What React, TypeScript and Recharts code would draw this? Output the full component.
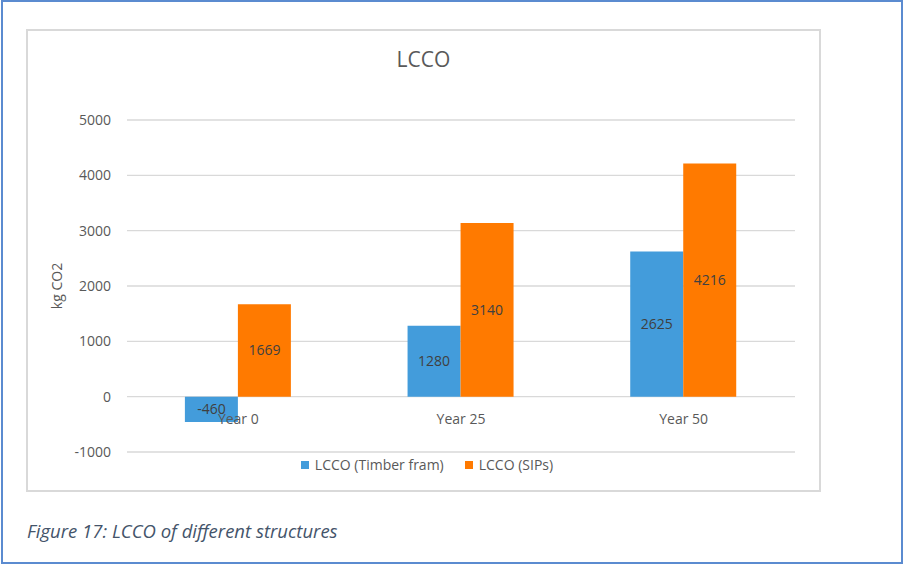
import React from "react";
import { BarChart, Bar, XAxis, YAxis, CartesianGrid, Legend, LabelList } from "recharts";

const CATEGORIES = ["Year 0", "Year 25", "Year 50"];
const TIMBER = [-460, 1280, 2625];
const SIPS = [1669, 3140, 4216];
const Y_TICKS = [-1000, 0, 1000, 2000, 3000, 4000, 5000];

const SERIES = [
  { key: "timber", label: "LCCO (Timber fram)", color: "#439cdb" },
  { key: "sips", label: "LCCO (SIPs)", color: "#ff7a00" },
];

const data = CATEGORIES.map((name, i) => ({ name, timber: TIMBER[i], sips: SIPS[i] }));

const CHART_W = 795;
const CHART_H = 463;
const MARGIN = { top: 91, right: 26, left: 20, bottom: 20 };
const X_AXIS_H = 20;
const PLOT_H = CHART_H - MARGIN.top - MARGIN.bottom - X_AXIS_H;
const Y_MIN = Y_TICKS[0];
const Y_MAX = Y_TICKS[Y_TICKS.length - 1];
// distance from the bottom of the plot up to the zero line
const ZERO_UP = (PLOT_H * (0 - Y_MIN)) / (Y_MAX - Y_MIN);

const TEXT = "#595959";
const FONT = "'Open Sans', sans-serif";

function CategoryTick(props: any) {
  const { x, y, payload } = props;
  return (
    <text x={x} y={y - ZERO_UP + 27} textAnchor="middle" fill={TEXT} fontSize={14}>
      {payload.value}
    </text>
  );
}

function LegendContent() {
  return (
    <div style={{ display: "flex", justifyContent: "center", gap: 21, paddingLeft: 7, fontSize: 14, color: TEXT }}>
      {SERIES.map((s) => (
        <div key={s.key} style={{ display: "flex", alignItems: "center", gap: 6 }}>
          <span style={{ width: 8, height: 8, background: s.color, display: "inline-block" }} />
          <span>{s.label}</span>
        </div>
      ))}
    </div>
  );
}

export default function App() {
  return (
    <div style={{ position: "absolute", left: 0, top: 0, width: 904, height: 564, background: "#fff", fontFamily: FONT }}>
      <div style={{ position: "absolute", left: 1, top: 0, width: 902, height: 564, border: "2px solid #5b8bd0", boxSizing: "border-box" }} />
      <div style={{ position: "absolute", left: 26, top: 29, width: CHART_W, height: CHART_H, border: "2px solid #d9d9d9", boxSizing: "border-box" }} />
      <div style={{ position: "absolute", left: 26, top: 45, width: CHART_W, textAlign: "center", fontSize: 21, color: TEXT }}>
        LCCO
      </div>
      <div style={{ position: "absolute", left: 26, top: 29 }}>
        <BarChart width={CHART_W} height={CHART_H} data={data} margin={MARGIN} barCategoryGap="26%" barGap={0}>
          <CartesianGrid vertical={false} stroke="#d9d9d9" strokeWidth={1.4} />
          <XAxis
            dataKey="name"
            height={X_AXIS_H}
            axisLine={false}
            tickLine={false}
            tickSize={0}
            tickMargin={0}
            tick={<CategoryTick />}
          />
          <YAxis
            width={81}
            domain={[Y_MIN, Y_MAX]}
            ticks={Y_TICKS}
            axisLine={false}
            tickLine={false}
            tickSize={0}
            tickMargin={16}
            tick={{ fill: TEXT, fontSize: 14 }}
            label={{
              value: "kg CO2",
              angle: -90,
              position: "insideLeft",
              offset: 11,
              fill: TEXT,
              fontSize: 14,
              style: { textAnchor: "middle" },
            }}
          />
          <Legend
            layout="horizontal"
            verticalAlign="middle"
            align="center"
            wrapperStyle={{ top: 426, left: 0, width: CHART_W }}
            content={<LegendContent />}
          />
          {SERIES.map((s) => (
            <Bar key={s.key} dataKey={s.key} fill={s.color} isAnimationActive={false}>
              <LabelList dataKey={s.key} position="center" fill="#404040" fontSize={14} />
            </Bar>
          ))}
        </BarChart>
      </div>
      <div style={{ position: "absolute", left: 27, top: 518, fontSize: 18.5, fontStyle: "italic", color: "#44546a" }}>
        Figure 17: LCCO of different structures
      </div>
    </div>
  );
}
